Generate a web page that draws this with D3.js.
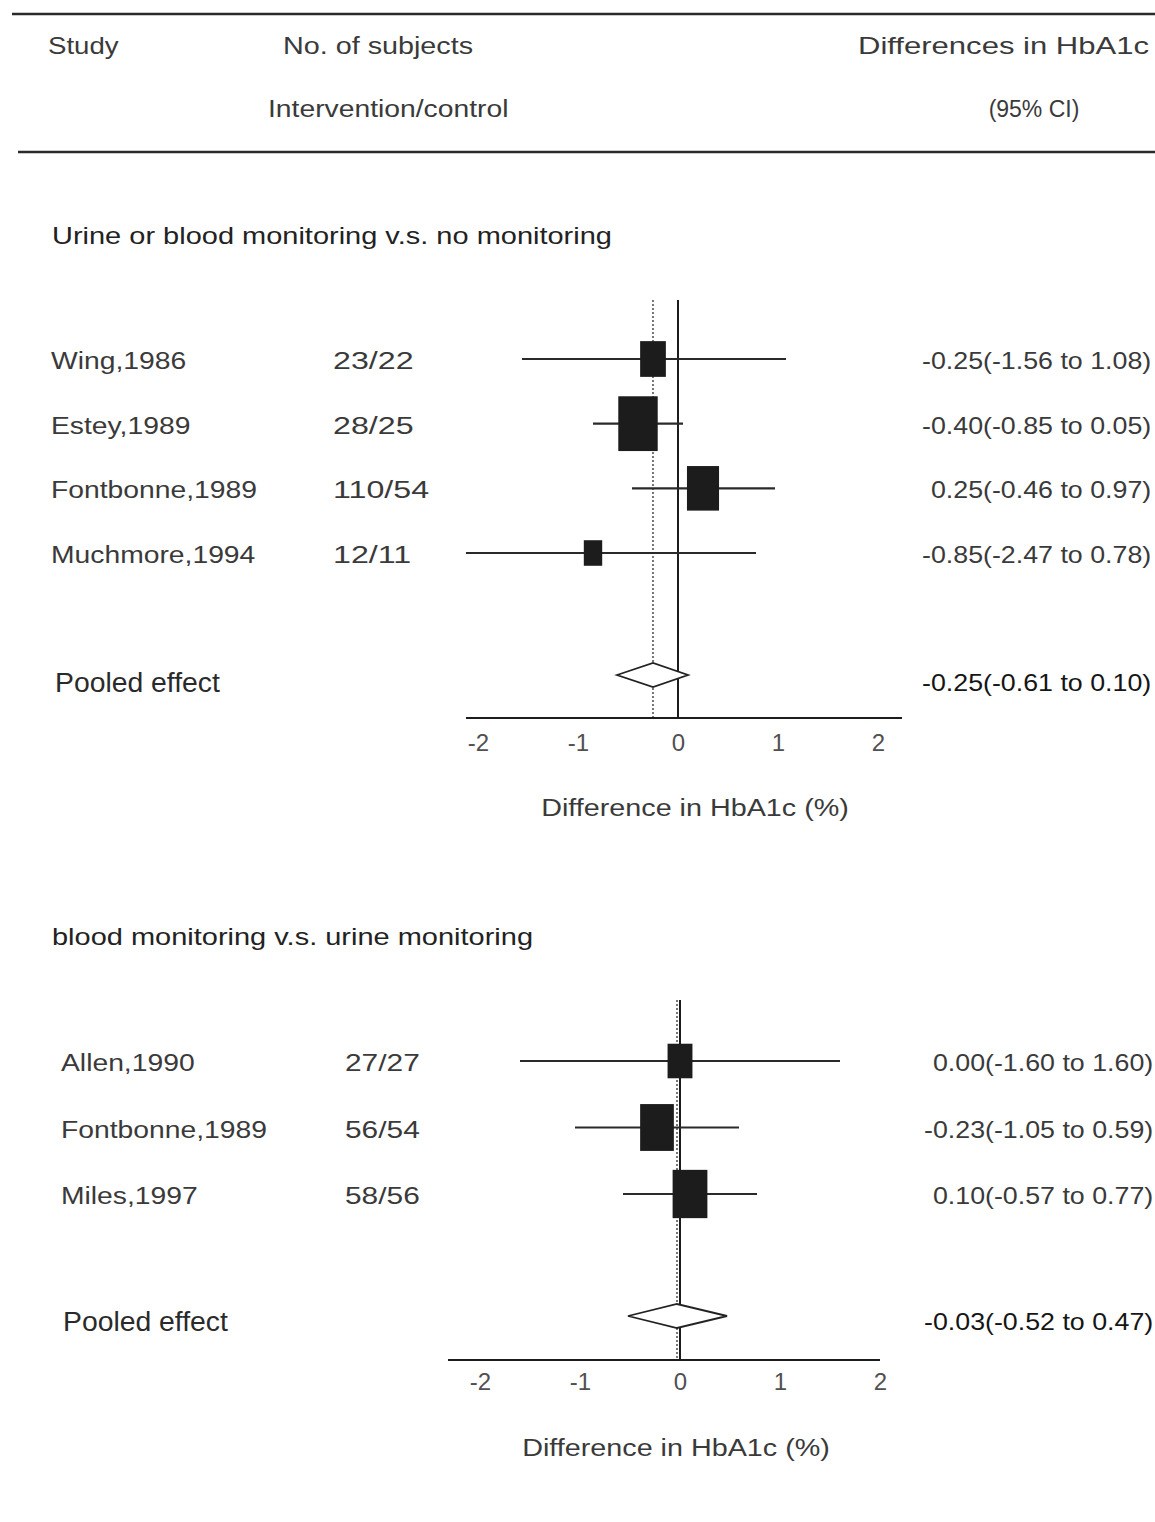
<!DOCTYPE html>
<html>
<head>
<meta charset="utf-8">
<script src="https://cdn.jsdelivr.net/npm/d3@7"></script>
<style>
  html, body { margin: 0; padding: 0; background: #fff; overflow: hidden; }
  svg { display: block; font-family: "Liberation Sans", Arial, sans-serif; }
</style>
</head>
<body>
<svg id="chart" width="1155" height="1522"></svg>
<script>
// DATA
var headerCols = ["Study", "No. of subjects", "Differences in HbA1c"];
var headerSub = ["Intervention/control", "(95% CI)"];
var sectionTitles = ["Urine or blood monitoring v.s. no monitoring", "blood monitoring v.s. urine monitoring"];
var axisTitles = ["Difference  in HbA1c (%)", "Difference in HbA1c (%)"];
var tickValues = [-2, -1, 0, 1, 2];
var pooledLabel = "Pooled effect";

// urine or blood vs none
var studies1 = ["Wing,1986", "Estey,1989", "Fontbonne,1989", "Muchmore,1994"];
var subjects1 = ["23/22", "28/25", "110/54", "12/11"];
var est1 = [-0.25, -0.40, 0.25, -0.85];
var lo1 = [-1.56, -0.85, -0.46, -2.47];
var hi1 = [1.08, 0.05, 0.97, 0.78];
var weight1 = [9.2, 21.6, 14.3, 4.7];   // box area (relative)

// blood vs urine
var studies2 = ["Allen,1990", "Fontbonne,1989", "Miles,1997"];
var subjects2 = ["27/27", "56/54", "58/56"];
var est2 = [0.00, -0.23, 0.10];
var lo2 = [-1.60, -1.05, -0.57];
var hi2 = [1.60, 0.59, 0.77];
var weight2 = [8.6, 15.8, 16.8];

var pooledEst = [-0.25, -0.03];
var pooledLo = [-0.61, -0.52];
var pooledHi = [0.10, 0.47];
var axisExtent = [[-2.12, 2.24], [-2.32, 2.0]];

// LAYOUT
var STRETCH = 1.23;     // scanned text is wider than Arial
var valSx = 1.165;
var textColor = "#3a3a3a";
var inkColor = "#1c1c1c";

var panels = [
  { studies: studies1, subjects: subjects1, est: est1, lo: lo1, hi: hi1, w: weight1,
    titleY: 236, lineTop: 300, rowFirst: 359, rowLast: 553, pooledY: 675, pooledTextY: 683,
    axisY: 718, tickY: 746, axisTitleY: 808, axisTitleX: 695, range: [478, 878],
    studyX: 51, subjX: 333, subjSx: 1.4, valX: 922, pooledX: 55 },
  { studies: studies2, subjects: subjects2, est: est2, lo: lo2, hi: hi2, w: weight2,
    titleY: 937, lineTop: 1000, rowFirst: 1061, rowLast: 1194, pooledY: 1316, pooledTextY: 1322,
    axisY: 1360, tickY: 1385, axisTitleY: 1448, axisTitleX: 676, range: [480, 880],
    studyX: 61, subjX: 345, subjSx: 1.3, valX: 924, pooledX: 63 }
];

var svg = d3.select("#chart");

// text helper: stretched horizontally like the scan
var txt = function(g, x, y, s, opt) {
  opt = opt || {};
  var sx = opt.sx || STRETCH;
  return g.append("text")
    .attr("transform", "translate(" + x + "," + y + ") scale(" + sx + ",1)")
    .attr("dy", "0.35em")
    .attr("text-anchor", opt.anchor || "start")
    .style("font-size", (opt.size || 23) + "px")
    .style("font-weight", opt.weight || "normal")
    .attr("fill", opt.fill || textColor)
    .text(s);
};

var fmt = function(v) { return v.toFixed(2); };
var ciText = function(e, l, h) { return fmt(e) + "(" + fmt(l) + " to " + fmt(h) + ")"; };
var minusW = 0.333 * 23 * valSx;

// header table
var head = svg.append("g");
head.append("line").attr("x1", 12).attr("x2", 1155).attr("y1", 14).attr("y2", 14)
  .attr("stroke", "#2a2a2a").attr("stroke-width", 2.5);
head.append("line").attr("x1", 18).attr("x2", 1155).attr("y1", 152).attr("y2", 152)
  .attr("stroke", "#2a2a2a").attr("stroke-width", 2.5);
txt(head, 48, 46, headerCols[0], { sx: 1.2 });
txt(head, 283, 46, headerCols[1], { sx: 1.25 });
txt(head, 858, 46, headerCols[2], { sx: 1.35 });
txt(head, 268, 109, headerSub[0], { sx: 1.23 });
txt(head, 1034, 109, headerSub[1], { anchor: "middle", sx: 1.0 });

// box size from weight
var boxAspect = 0.72;
var area = d3.scaleLinear().domain([0, 1]).range([0, 100]);

panels.forEach(function(p, pi) {
  var g = svg.append("g").attr("class", "panel" + pi);
  var x = d3.scaleLinear().domain([-2, 2]).range(p.range);
  var n = p.studies.length;
  var y = d3.scaleLinear().domain([0, n - 1]).range([p.rowFirst, p.rowLast]);
  var ext = axisExtent[pi];
  var clip = function(v) { return Math.max(ext[0], Math.min(ext[1], v)); };
  var rows = d3.range(n);

  txt(g, 52, p.titleY, sectionTitles[pi], { fill: "#222", sx: 1.26 });

  // pooled estimate (dotted) and zero line
  g.append("line")
    .attr("x1", x(pooledEst[pi])).attr("x2", x(pooledEst[pi]))
    .attr("y1", p.lineTop).attr("y2", p.axisY)
    .attr("stroke", "#555").attr("stroke-width", 1.6).attr("stroke-dasharray", "2,2");
  g.append("line")
    .attr("x1", x(0)).attr("x2", x(0))
    .attr("y1", p.lineTop).attr("y2", p.axisY)
    .attr("stroke", inkColor).attr("stroke-width", 2);

  // confidence intervals
  g.selectAll(".ci").data(rows).enter().append("line")
    .attr("class", "ci")
    .attr("x1", function(i) { return x(clip(p.lo[i])); })
    .attr("x2", function(i) { return x(clip(p.hi[i])); })
    .attr("y1", function(i) { return y(i); })
    .attr("y2", function(i) { return y(i); })
    .attr("stroke", "#2a2a2a").attr("stroke-width", 2.2);

  // weighted boxes
  g.selectAll(".box").data(rows).enter().append("rect")
    .attr("class", "box")
    .attr("width", function(i) { return Math.sqrt(area(p.w[i]) * boxAspect); })
    .attr("height", function(i) { return Math.sqrt(area(p.w[i]) / boxAspect); })
    .attr("x", function(i) { return x(p.est[i]) - 0.5 * Math.sqrt(area(p.w[i]) * boxAspect); })
    .attr("y", function(i) { return y(i) - 0.5 * Math.sqrt(area(p.w[i]) / boxAspect); })
    .attr("fill", inkColor);

  // pooled diamond
  var dh = 12;
  g.append("path")
    .attr("d", "M" + x(pooledLo[pi]) + "," + p.pooledY +
      "L" + x(pooledEst[pi]) + "," + (p.pooledY - dh) +
      "L" + x(pooledHi[pi]) + "," + p.pooledY +
      "L" + x(pooledEst[pi]) + "," + (p.pooledY + dh) + "Z")
    .attr("fill", "#fff").attr("stroke", "#222").attr("stroke-width", 1.8);

  // axis
  g.append("line")
    .attr("x1", x(ext[0])).attr("x2", x(ext[1]))
    .attr("y1", p.axisY).attr("y2", p.axisY)
    .attr("stroke", inkColor).attr("stroke-width", 2);
  var axis = g.append("g")
    .attr("transform", "translate(0," + (p.tickY - 12) + ")")
    .call(d3.axisBottom(x).tickValues(tickValues).tickSize(0).tickPadding(0)
      .tickFormat(function(d) { return d; }));
  axis.select(".domain").remove();
  axis.selectAll("text")
    .attr("dy", "0.71em")
    .style("font-family", "'Liberation Sans', Arial, sans-serif")
    .style("font-size", "24px")
    .attr("fill", "#505050");
  txt(g, p.axisTitleX, p.axisTitleY, axisTitles[pi], { anchor: "middle", sx: 1.25 });

  // left and right columns
  rows.forEach(function(i) {
    var ty = y(i) + 2;
    txt(g, p.studyX, ty, p.studies[i]);
    txt(g, p.subjX, ty, p.subjects[i], { sx: p.subjSx });
    txt(g, p.valX + (p.est[i] < 0 ? 0 : minusW), ty, ciText(p.est[i], p.lo[i], p.hi[i]), { sx: valSx });
  });
  txt(g, p.pooledX, p.pooledTextY, pooledLabel, { size: 27, sx: 1.05, fill: "#2a2a2a" });
  txt(g, p.valX + (pooledEst[pi] < 0 ? 0 : minusW), p.pooledTextY,
      ciText(pooledEst[pi], pooledLo[pi], pooledHi[pi]), { fill: "#151515", sx: valSx });
});
</script>
</body>
</html>
